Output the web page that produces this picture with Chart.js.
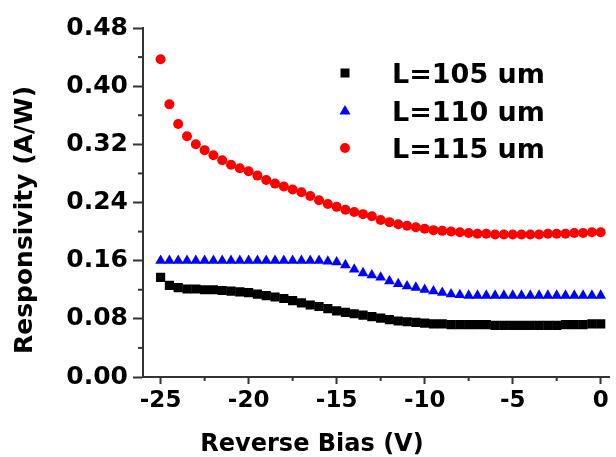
<!DOCTYPE html>
<html>
<head>
<meta charset="utf-8">
<script src="https://cdn.jsdelivr.net/npm/chart.js@4.4.1/dist/chart.umd.min.js"></script>
<style>
  html, body { margin: 0; padding: 0; background: #fff; }
  canvas { display: block; }
</style>
</head>
<body>
<canvas id="myChart" width="616" height="457"></canvas>
<script>
// reverse bias (V), one point every 0.5 V
var biasV = [-25, -24.5, -24, -23.5, -23, -22.5, -22, -21.5, -21, -20.5,
             -20, -19.5, -19, -18.5, -18, -17.5, -17, -16.5, -16, -15.5,
             -15, -14.5, -14, -13.5, -13, -12.5, -12, -11.5, -11, -10.5,
             -10, -9.5, -9, -8.5, -8, -7.5, -7, -6.5, -6, -5.5,
             -5, -4.5, -4, -3.5, -3, -2.5, -2, -1.5, -1, -0.5, 0];

var resp105 = [0.137, 0.126, 0.123, 0.121, 0.121, 0.120, 0.120, 0.119, 0.118, 0.117,
               0.116, 0.114, 0.112, 0.110, 0.108, 0.105, 0.102, 0.099, 0.097, 0.094,
               0.091, 0.089, 0.087, 0.085, 0.083, 0.081, 0.079, 0.077, 0.076, 0.075,
               0.074, 0.073, 0.073, 0.072, 0.072, 0.072, 0.072, 0.072, 0.071, 0.071,
               0.071, 0.071, 0.071, 0.071, 0.071, 0.071, 0.072, 0.072, 0.072, 0.073, 0.073];

var resp110 = [0.160, 0.160, 0.160, 0.160, 0.160, 0.160, 0.160, 0.160, 0.160, 0.160,
               0.160, 0.160, 0.160, 0.160, 0.160, 0.160, 0.160, 0.160, 0.160, 0.159,
               0.158, 0.154, 0.148, 0.143, 0.140, 0.137, 0.132, 0.128, 0.125, 0.123,
               0.120, 0.118, 0.116, 0.114, 0.113, 0.112, 0.112, 0.112, 0.112, 0.112,
               0.112, 0.112, 0.112, 0.112, 0.112, 0.112, 0.112, 0.112, 0.112, 0.112, 0.112];

var resp115 = [0.437, 0.375, 0.348, 0.331, 0.320, 0.312, 0.305, 0.298, 0.292, 0.287,
               0.283, 0.277, 0.271, 0.266, 0.262, 0.258, 0.254, 0.249, 0.243, 0.238,
               0.234, 0.230, 0.227, 0.224, 0.221, 0.216, 0.213, 0.210, 0.208, 0.206,
               0.204, 0.202, 0.201, 0.200, 0.199, 0.198, 0.197, 0.197, 0.196, 0.196,
               0.196, 0.196, 0.196, 0.196, 0.197, 0.197, 0.197, 0.198, 0.198, 0.199, 0.199];

var seriesNames = ['L=105 um', 'L=110 um', 'L=115 um'];

var xTicks = [-25, -20, -15, -10, -5, 0];
var xMinorTicks = [-22.5, -17.5, -12.5, -7.5, -2.5];
var yTicks = [0, 0.08, 0.16, 0.24, 0.32, 0.40, 0.48];
var yMinorTicks = [0.04, 0.12, 0.20, 0.28, 0.36, 0.44];

var FONT = "'DejaVu Sans', sans-serif";
var AXIS_COLOR = '#333';

function toPoints(ys) {
    return biasV.map(function (x, i) { return { x: x, y: ys[i] }; });
}

// minor ticks, axis titles and the legend inside the plot
var extras = {
    id: 'extras',
    afterDraw: function (chart) {
        var ctx = chart.ctx;
        var xs = chart.scales.x;
        var ys = chart.scales.y;
        var area = chart.chartArea;

        ctx.save();
        ctx.strokeStyle = AXIS_COLOR;
        ctx.lineWidth = 2;
        xMinorTicks.forEach(function (v) {
            var px = xs.getPixelForValue(v);
            ctx.beginPath();
            ctx.moveTo(px, area.bottom);
            ctx.lineTo(px, area.bottom + 4);
            ctx.stroke();
        });
        yMinorTicks.forEach(function (v) {
            var py = ys.getPixelForValue(v);
            ctx.beginPath();
            ctx.moveTo(area.left - 5, py);
            ctx.lineTo(area.left, py);
            ctx.stroke();
        });

        // axis titles
        ctx.fillStyle = '#000';
        ctx.font = 'bold 24px ' + FONT;
        ctx.textAlign = 'center';
        ctx.textBaseline = 'alphabetic';
        ctx.fillText('Reverse Bias (V)', 312, 451);

        ctx.save();
        ctx.translate(32, 220);
        ctx.rotate(-Math.PI / 2);
        ctx.font = 'bold 25px ' + FONT;
        ctx.fillText('Responsivity (A/W)', 0, 0);
        ctx.restore();

        // legend
        var rows = [83, 121, 158];
        chart.data.datasets.forEach(function (ds, i) {
            var mx = 345;
            var my = rows[i] - 10;
            ctx.fillStyle = ds.backgroundColor;
            if (ds.pointStyle === 'rect') {
                ctx.fillRect(mx - 4.5, my - 4.5, 9, 9);
            } else if (ds.pointStyle === 'triangle') {
                ctx.beginPath();
                ctx.moveTo(mx, my - 6);
                ctx.lineTo(mx + 5.5, my + 3.5);
                ctx.lineTo(mx - 5.5, my + 3.5);
                ctx.closePath();
                ctx.fill();
            } else {
                ctx.beginPath();
                ctx.arc(mx, my, 5, 0, Math.PI * 2);
                ctx.fill();
            }
            ctx.fillStyle = '#000';
            ctx.font = 'bold 27px ' + FONT;
            ctx.textAlign = 'left';
            ctx.fillText(ds.label, 392, rows[i]);
        });
        ctx.restore();
    }
};

var ctx = document.getElementById('myChart');

new Chart(ctx, {
    type: 'scatter',
    data: {
        datasets: [
            {
                label: seriesNames[0],
                data: toPoints(resp105),
                pointStyle: 'rect',
                pointRadius: 6.5,
                backgroundColor: '#000000',
                borderColor: '#000000',
                borderWidth: 0
            },
            {
                label: seriesNames[1],
                data: toPoints(resp110),
                pointStyle: 'triangle',
                pointRadius: 6.2,
                backgroundColor: '#0000ff',
                borderColor: '#0000ff',
                borderWidth: 0
            },
            {
                label: seriesNames[2],
                data: toPoints(resp115),
                pointStyle: 'circle',
                pointRadius: 5,
                backgroundColor: '#ff0000',
                borderColor: '#ff0000',
                borderWidth: 0
            }
        ]
    },
    options: {
        responsive: false,
        animation: false,
        layout: { padding: { left: 0, top: 28, right: 4, bottom: 0 } },
        plugins: {
            legend: { display: false },
            tooltip: { enabled: false }
        },
        scales: {
            x: {
                type: 'linear',
                min: -26,
                max: 0.5,
                afterBuildTicks: function (scale) {
                    scale.ticks = xTicks.map(function (v) { return { value: v }; });
                },
                afterFit: function (scale) { scale.height = 80; },
                ticks: {
                    autoSkip: false,
                    maxRotation: 0,
                    padding: 3,
                    color: '#000',
                    font: { family: FONT, size: 23, weight: 'bold' },
                    callback: function (v) { return String(v); }
                },
                grid: {
                    drawOnChartArea: false,
                    tickLength: 7,
                    tickWidth: 2,
                    tickColor: AXIS_COLOR
                },
                border: { display: true, color: AXIS_COLOR, width: 2 }
            },
            y: {
                min: 0,
                max: 0.48,
                afterBuildTicks: function (scale) {
                    scale.ticks = yTicks.map(function (v) { return { value: v }; });
                },
                afterFit: function (scale) { scale.width = 143; },
                ticks: {
                    autoSkip: false,
                    padding: 5,
                    color: '#000',
                    font: { family: FONT, size: 25, weight: 'bold' },
                    callback: function (v) { return v.toFixed(2); }
                },
                grid: {
                    drawOnChartArea: false,
                    tickLength: 10,
                    tickWidth: 2,
                    tickColor: AXIS_COLOR
                },
                border: { display: true, color: AXIS_COLOR, width: 2 }
            }
        }
    },
    plugins: [extras]
});
</script>
</body>
</html>
